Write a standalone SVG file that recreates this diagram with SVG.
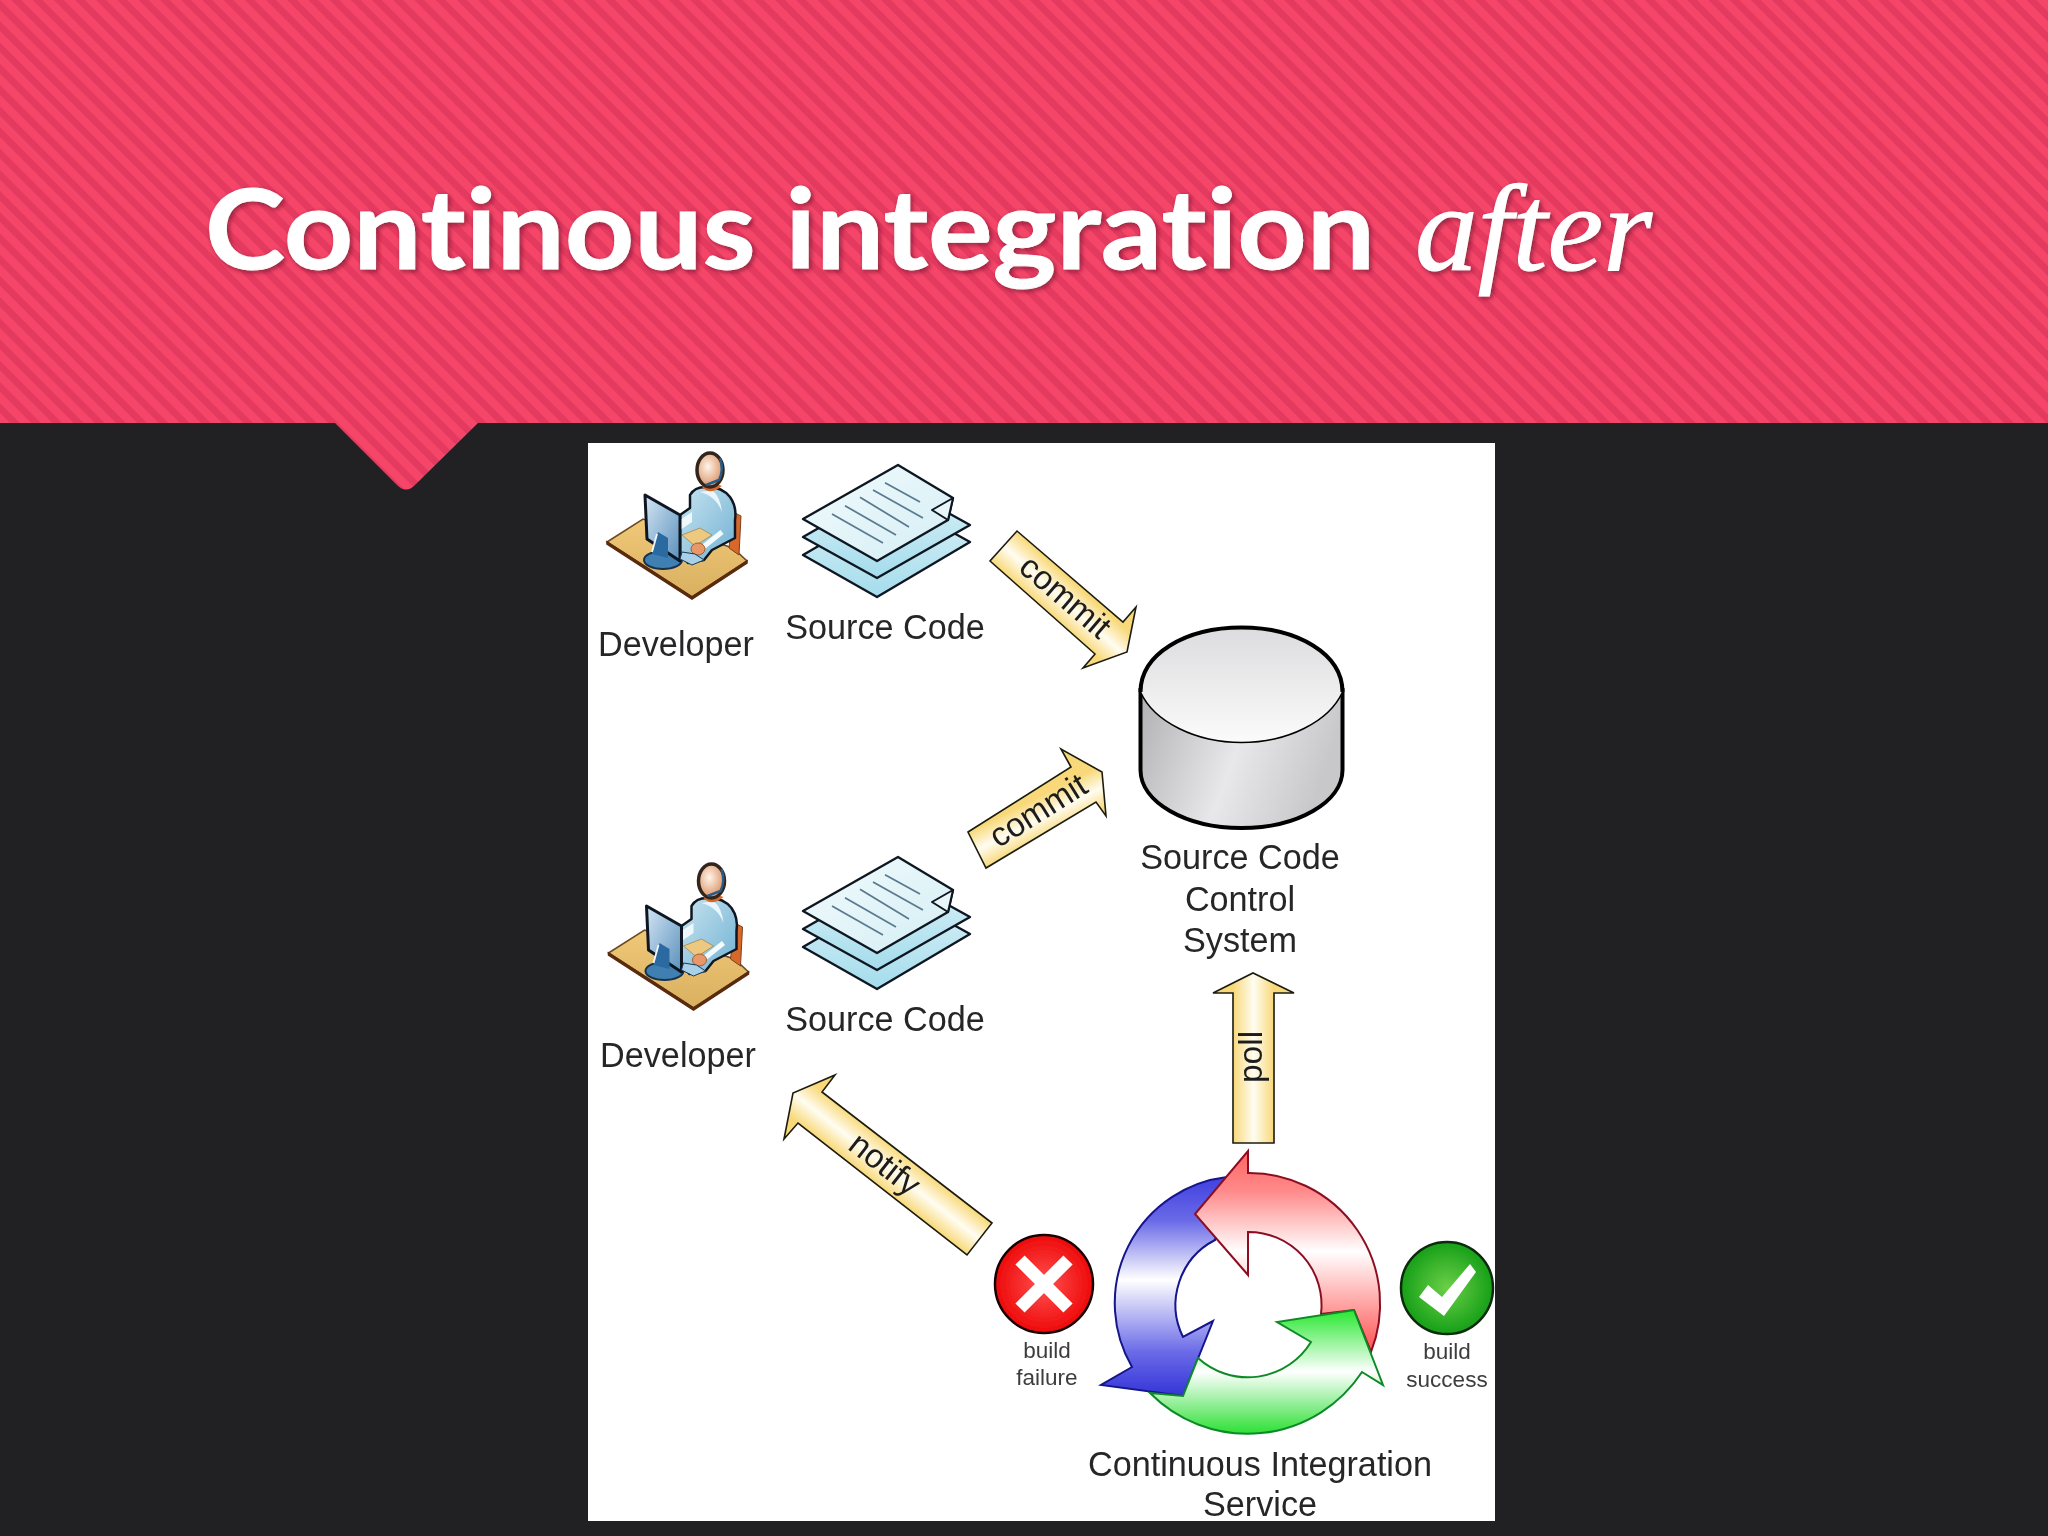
<svg xmlns="http://www.w3.org/2000/svg" width="2048" height="1536" viewBox="0 0 2048 1536">
<style>
.lbl{font-family:"Liberation Sans",Arial,sans-serif;font-size:34.2px;fill:#262628;text-anchor:middle}
.sm{font-family:"Liberation Sans",Arial,sans-serif;font-size:22.5px;fill:#3c3c3e;text-anchor:middle}
.arrow{stroke:#1c1c10;stroke-width:1.6;stroke-linejoin:miter}
.arrowtxt{font-family:"Liberation Sans",Arial,sans-serif;font-size:33.5px;fill:#1e1e1e;text-anchor:middle}
.ink{stroke:#101820;stroke-linejoin:round}
.soft{filter:url(#soft)}
</style>
<defs>
<filter id="soft" x="-5%" y="-5%" width="110%" height="110%"><feGaussianBlur stdDeviation="0.6"/></filter>
<pattern id="stripes" width="15" height="15" patternUnits="userSpaceOnUse" patternTransform="rotate(45)">
<rect width="15" height="15" fill="#f54669"/><rect y="0" width="15" height="7" fill="#e53a60"/>
</pattern>
<filter id="ts" x="-5%" y="-20%" width="110%" height="140%"><feDropShadow dx="2" dy="2" stdDeviation="2.5" flood-color="#5a0a20" flood-opacity="0.65"/></filter>
<linearGradient id="gy"><stop offset="0" stop-color="#f8d878"/><stop offset="0.5" stop-color="#fffdf2"/><stop offset="1" stop-color="#f8d878"/></linearGradient>
<linearGradient id="g1" href="#gy" gradientUnits="userSpaceOnUse" x1="1017" y1="531" x2="990" y2="561"/>
<linearGradient id="g2" href="#gy" gradientUnits="userSpaceOnUse" x1="968" y1="832" x2="986" y2="868"/>
<linearGradient id="g3" href="#gy" gradientUnits="userSpaceOnUse" x1="1233" y1="1100" x2="1274" y2="1100"/>
<linearGradient id="g4" href="#gy" gradientUnits="userSpaceOnUse" x1="992" y1="1223" x2="967" y2="1255"/>
<linearGradient id="gtop" x1="0" y1="0" x2="0" y2="1"><stop offset="0" stop-color="#dcdcde"/><stop offset="1" stop-color="#fbfbfb"/></linearGradient>
<linearGradient id="gside" x1="0" y1="0" x2="1" y2="0.25"><stop offset="0" stop-color="#b0b0b2"/><stop offset="0.55" stop-color="#e8e8ea"/><stop offset="1" stop-color="#c8c8ca"/></linearGradient>
<linearGradient id="gblue" x1="0" y1="0" x2="0" y2="1"><stop offset="0" stop-color="#4040e0"/><stop offset="0.2" stop-color="#6a6ae8"/><stop offset="0.47" stop-color="#ffffff"/><stop offset="0.8" stop-color="#6a6ae8"/><stop offset="1" stop-color="#3434d8"/></linearGradient>
<linearGradient id="gred" x1="0" y1="0" x2="0" y2="1"><stop offset="0" stop-color="#ff6464"/><stop offset="0.2" stop-color="#ff8a8a"/><stop offset="0.5" stop-color="#ffffff"/><stop offset="1" stop-color="#ff5050"/></linearGradient>
<linearGradient id="ggreen" x1="0" y1="0" x2="0" y2="1"><stop offset="0" stop-color="#28e830"/><stop offset="0.5" stop-color="#ffffff"/><stop offset="1" stop-color="#2ce034"/></linearGradient>
<radialGradient id="grr"><stop offset="0" stop-color="#ff5050"/><stop offset="1" stop-color="#ee0a0a"/></radialGradient>
<radialGradient id="grg"><stop offset="0" stop-color="#6ccf48"/><stop offset="1" stop-color="#16a018"/></radialGradient>
<radialGradient id="gskin" cx="0.42" cy="0.4"><stop offset="0" stop-color="#fff4ea"/><stop offset="1" stop-color="#e0a47c"/></radialGradient>
<linearGradient id="gdesk" x1="0" y1="0" x2="0" y2="1"><stop offset="0" stop-color="#f0c878"/><stop offset="1" stop-color="#d8b060"/></linearGradient>
<linearGradient id="gbody" x1="0" y1="0" x2="1" y2="1"><stop offset="0" stop-color="#c8e4f0"/><stop offset="1" stop-color="#6fb0d2"/></linearGradient>
<linearGradient id="gscreen" x1="0" y1="0" x2="1" y2="1"><stop offset="0" stop-color="#d4e6f4"/><stop offset="1" stop-color="#5a90bc"/></linearGradient>
<linearGradient id="gp1" x1="0" y1="0" x2="1" y2="1"><stop offset="0" stop-color="#f2fbfd"/><stop offset="1" stop-color="#d4eef4"/></linearGradient>
<linearGradient id="gp2" x1="0" y1="0" x2="0" y2="1"><stop offset="0" stop-color="#dcf2f8"/><stop offset="1" stop-color="#a4dcec"/></linearGradient>
<g id="devicon">
<path d="M607,542 L643,519 L733,548 L747,561 L692,597 Z" fill="url(#gdesk)" stroke="#6a4a20" stroke-width="1.500"/>
<path d="M607,542 L692,597 L747,561 L747,563 L692,599 L607,544 Z" fill="#c05a18" stroke="#5a2a10" stroke-width="1.500"/>
<path d="M733,512 L741,516 L739,555 L729,548 Z" fill="#d8682a" stroke="#7a4020" stroke-width="1"/>
<path d="M690,495 Q695,486 708,487 Q722,487 730,497 Q737,507 735,520 L735,538 L712,550 L704,560 L688,563 L680,553 L680,515 L690,508 Z" fill="url(#gbody)" class="ink" stroke-width="2.500"/>
<path d="M680,520 L692,512 L692,522 L680,530 Z" fill="#eef8fc"/>
<path d="M682,535 L700,528 L712,535 L695,546 Z" fill="#ecc880" stroke="#a08850" stroke-width="0.800"/>
<path d="M702,548 L722,532" stroke="#f4fbff" stroke-width="5" fill="none"/>
<path d="M700,492 Q716,496 722,512 Q720,496 712,490 Z" fill="#eaf6fb"/>
<ellipse cx="698" cy="549" rx="7" ry="6" fill="#e89868" stroke="#a06030" stroke-width="1"/>
<path d="M702,487 Q710,496 722,486 L716,484 L704,484 Z" fill="#d8682a"/>
<ellipse cx="710" cy="470" rx="13" ry="17" fill="url(#gskin)" stroke="#33251c" stroke-width="3.500"/>
<path d="M720,458 Q724,470 719,480 L706,485" fill="none" stroke="#2a5a8a" stroke-width="2.500"/>
<ellipse cx="663" cy="560" rx="19" ry="9" fill="#3f7fb2" stroke="#14324e" stroke-width="2"/>
<path d="M645,495 L680,515 L680,561 L647,539 Z" fill="url(#gscreen)" class="ink" stroke-width="3"/>
<path d="M658,532 L652,554 L668,558 L668,538 Z" fill="#2a6aa0"/>
<path d="M657,534 L652,552" stroke="#f2f8fc" stroke-width="1.800" fill="none"/>
<path d="M680,559 L692,565 L704,560 L695,554 L682,552 Z" fill="#a8d0e8" stroke="#1a3a5a" stroke-width="1"/>
</g>
<g id="docicon">
<path d="M803,555 L896,501 L970,542 L877,597 Z" fill="url(#gp2)" class="ink" stroke-width="2.400"/>
<path d="M803,537 L896,484 L970,525 L877,578 Z" fill="url(#gp2)" class="ink" stroke-width="2.400"/>
<path d="M803,519 L898,465 L953,498 L948,520 L877,561 Z" fill="url(#gp1)" class="ink" stroke-width="2.400"/>
<path d="M953,498 L932,510 L948,520 Z" fill="#e8f6fa" class="ink" stroke-width="2"/>
<path d="M885,482.700 L920,502 M873,490 L923,518 M860,497.300 L909,527 M845,505.700 L896,535 M832,514 L883,543" stroke="#5a7a90" stroke-width="1.800" fill="none"/>
</g>
</defs>

<g id="background">
<rect width="2048" height="1536" fill="#212124"/>
<path d="M0,0 H2048 V423 H478 L416,484 Q406,495 396,484 L335,423 H0 Z" fill="url(#stripes)"/>
<rect x="588" y="443" width="907" height="1078" fill="#ffffff"/>
</g>

<g id="title" filter="url(#ts)">
<text x="205" y="269" font-family="Lato,'Liberation Sans',sans-serif" font-weight="700" font-size="112" fill="#ffffff" stroke="#ffffff" stroke-width="0.800" style="font-variant-ligatures:none" textLength="1170" lengthAdjust="spacingAndGlyphs">Continous integration</text>
<text x="1415" y="270" font-family="'Liberation Serif',serif" font-style="italic" font-size="122" fill="#ffffff" stroke="#ffffff" stroke-width="1" textLength="237" lengthAdjust="spacingAndGlyphs">after</text>
</g>

<g id="connectors" class="soft">
<g id="commit-1"><polygon class="arrow" points="1017,531 1123,622 1136,607 1127,652 1083,668 1095,654 990,561" fill="url(#g1)"/>
<text class="arrowtxt" transform="translate(1058,605) rotate(40.600)">commit</text></g>
<g id="commit-2"><polygon class="arrow" points="968,832 1071,767 1061,749 1102,772 1106,816 1096,802 986,868" fill="url(#g2)"/>
<text class="arrowtxt" transform="translate(1044,820) rotate(-32)">commit</text></g>
<g id="poll"><polygon class="arrow" points="1233,1143 1233,993 1213,993 1253,973 1294,993 1274,993 1274,1143" fill="url(#g3)"/>
<text class="arrowtxt" transform="translate(1262,1057) rotate(-90)">poll</text></g>
<g id="notify"><polygon class="arrow" points="992,1223 822,1092 835,1075 793,1093 784,1139 798,1123 967,1255" fill="url(#g4)"/>
<text class="arrowtxt" transform="translate(878,1173) rotate(38)">notify</text></g>
</g>

<g id="developer-1" class="soft"><use href="#devicon"/><text class="lbl" x="676" y="656">Developer</text></g>
<g id="source-code-1" class="soft"><use href="#docicon"/><text class="lbl" x="885" y="639">Source Code</text></g>
<g id="developer-2" class="soft"><use href="#devicon" x="1.500" y="411"/><text class="lbl" x="678" y="1067">Developer</text></g>
<g id="source-code-2" class="soft"><use href="#docicon" y="392"/><text class="lbl" x="885" y="1031">Source Code</text></g>

<g id="source-control" class="soft">
<path d="M1140.500,690 V770 C1140.500,802 1185.500,828 1241.500,828 C1297.500,828 1342.500,802 1342.500,770 V690 Z" fill="url(#gside)" stroke="#000" stroke-width="4"/>
<path d="M1140.500,692 C1140.500,654 1185.500,627.500 1241.500,627.500 C1297.500,627.500 1342.500,654 1342.500,692 C1329,722 1287,742.500 1241.500,742.500 C1196,742.500 1154,722 1140.500,692 Z" fill="url(#gtop)"/>
<path d="M1140.500,692 C1140.500,654 1185.500,627.500 1241.500,627.500 C1297.500,627.500 1342.500,654 1342.500,692" fill="none" stroke="#000" stroke-width="4"/>
<path d="M1140.500,692 C1154,722 1196,742.500 1241.500,742.500 C1287,742.500 1329,722 1342.500,692" fill="none" stroke="#000" stroke-width="1.600"/>
<text class="lbl" x="1240" y="869">Source Code</text>
<text class="lbl" x="1240" y="911">Control</text>
<text class="lbl" x="1240" y="952">System</text>
</g>

<g id="ci-service" class="soft">
<path d="M1227,1177 A127,127 0 0 0 1132,1367 L1101,1385 L1183,1396 L1213,1321 L1183,1337 A73,73 0 0 1 1215,1240 Z" fill="url(#gblue)" stroke="#14148c" stroke-width="2"/>
<path d="M1248,1173 A131,131 0 0 1 1371,1352 L1354,1310 L1321,1314 A73,73 0 0 0 1248,1232 L1248,1275 L1195,1214 L1248,1151 Z" fill="url(#gred)" stroke="#8c1024" stroke-width="2"/>
<path d="M1150,1393 A137,137 0 0 0 1362,1372 L1383,1385 L1354,1310 L1277,1322 L1311,1342 A74,74 0 0 1 1198,1358 L1183,1396 Z" fill="url(#ggreen)" stroke="#0c8a28" stroke-width="2"/>
<text class="lbl" x="1260" y="1476">Continuous Integration</text>
<text class="lbl" x="1260" y="1516">Service</text>
</g>

<g id="build-failure" class="soft">
<circle cx="1044" cy="1284" r="49" fill="url(#grr)" stroke="#1a0404" stroke-width="2.500"/>
<path d="M1020,1260 L1068,1308 M1068,1260 L1020,1308" stroke="#ffffff" stroke-width="13" fill="none"/>
<text class="sm" x="1047" y="1358">build</text>
<text class="sm" x="1047" y="1385">failure</text>
</g>

<g id="build-success" class="soft">
<circle cx="1447" cy="1288" r="46" fill="url(#grg)" stroke="#0a2a0a" stroke-width="2.500"/>
<polygon points="1419,1297 1428,1285 1442,1297 1470,1264 1476,1272 1444,1316" fill="#ffffff"/>
<text class="sm" x="1447" y="1359">build</text>
<text class="sm" x="1447" y="1387">success</text>
</g>
</svg>
